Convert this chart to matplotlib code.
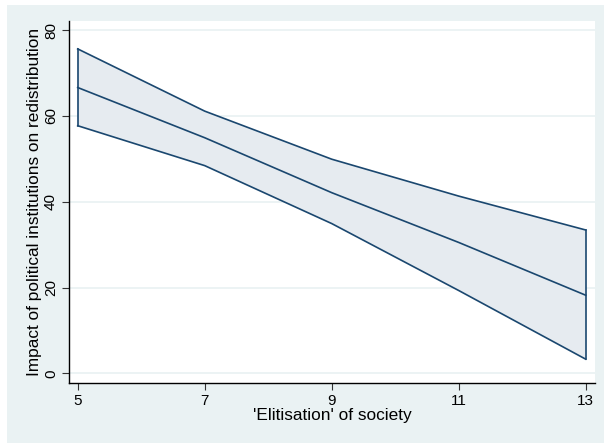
import matplotlib
matplotlib.use("Agg")
import matplotlib.pyplot as plt
from matplotlib.patches import Rectangle

x = [5, 7, 9, 11, 13]
upper = [75.6, 61.1, 49.9, 41.3, 33.4]
mean = [66.6, 54.9, 42.1, 30.5, 18.2]
lower = [57.7, 48.4, 34.9, 19.3, 3.3]
xticks = [5, 7, 9, 11, 13]
yticks = [0, 20, 40, 60, 80]
xlabel = "'Elitisation' of society"
ylabel = "Impact of political institutions on redistribution"

plt.rcParams['font.family'] = ['Liberation Sans', 'DejaVu Sans']
W, H = 604, 443
fig = plt.figure(figsize=(W/100, H/100), dpi=100, facecolor='white')
fig.patches.append(Rectangle((7/W, 0), 1, 1 - 5/H, transform=fig.transFigure,
                             facecolor='#EAF2F3', edgecolor='none', zorder=-10))
ax = fig.add_axes([69/W, 1 - 383/H, (595-69)/W, (383-21)/H])
ax.set_facecolor('white')
navy = '#1A476F'
ax.fill_between(x, lower, upper, facecolor='#E6EBF0', edgecolor='none', zorder=2)
ax.plot(x, upper, color=navy, lw=1.2, zorder=3)
ax.plot(x, lower, color=navy, lw=1.2, zorder=3)
ax.plot(x, mean, color=navy, lw=1.2, zorder=3)
ax.plot([x[0], x[0]], [lower[0], upper[0]], color=navy, lw=1.2, zorder=3)
ax.plot([x[-1], x[-1]], [lower[-1], upper[-1]], color=navy, lw=1.2, zorder=3)

ax.set_xlim(4.863, 13.146)
ax.set_ylim(-2.25, 82.1)
ax.set_xticks(xticks)
ax.set_yticks(yticks)
ax.set_xticklabels([str(v) for v in xticks], fontsize=11)
ax.set_yticklabels([str(v) for v in yticks], fontsize=11, rotation=90, va='center')
ax.yaxis.grid(True, color='#EAF2F3', lw=1.3, zorder=0)
ax.set_axisbelow(True)
for s in ['top', 'right']:
    ax.spines[s].set_visible(False)
for s in ['left', 'bottom']:
    ax.spines[s].set_color('black')
    ax.spines[s].set_linewidth(1.0)
ax.tick_params(axis='both', length=5, width=0.8, color='#333333', pad=3)
ax.set_xlabel(xlabel, fontsize=12.4, labelpad=0)
ax.set_ylabel(ylabel, fontsize=12.4, labelpad=1)
fig.savefig('out.png', dpi=100, facecolor='white')
